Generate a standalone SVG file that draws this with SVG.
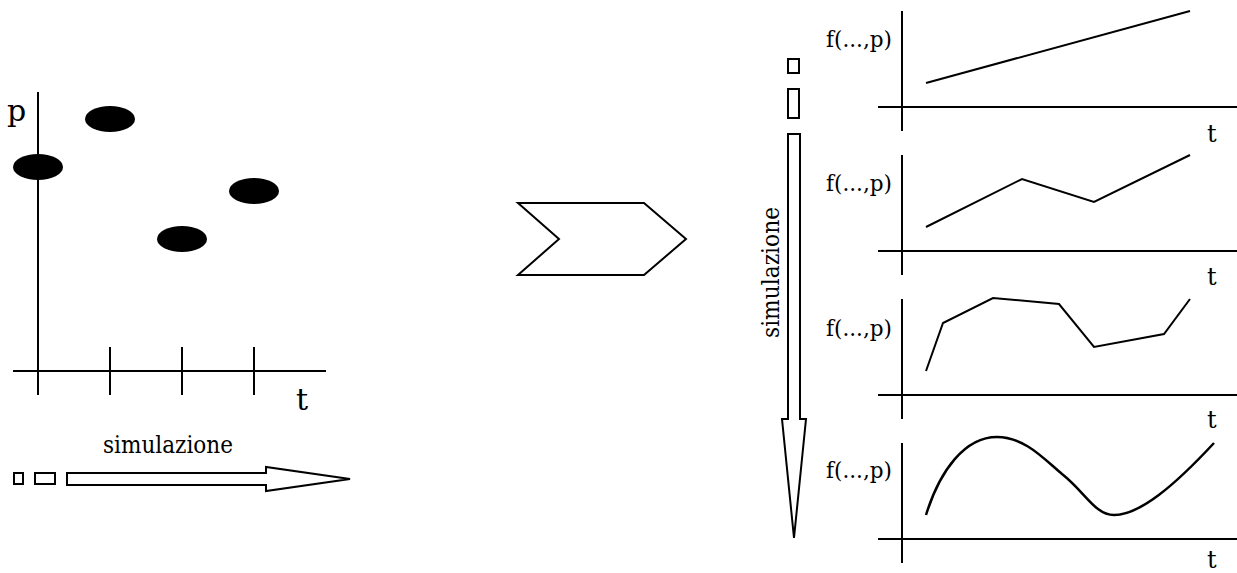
<svg xmlns="http://www.w3.org/2000/svg" width="1237" height="573" viewBox="0 0 1237 573">
<style>
.ln{fill:none;stroke:#000;stroke-width:2}
.sh{fill:#fff;stroke:#000;stroke-width:2;stroke-linejoin:miter}
.dot{fill:#000}
text{font-family:"DejaVu Serif","Liberation Serif",serif;fill:#000}
.big{font-size:30px}
.lbl{font-size:22px}
.tt{font-size:24px}
</style>
<rect width="1237" height="573" fill="#fff"/>
<g id="left-chart">
<line class="ln" x1="38" y1="92" x2="38" y2="395"/>
<line class="ln" x1="13" y1="371" x2="326" y2="371"/>
<line class="ln" x1="110" y1="347" x2="110" y2="395"/>
<line class="ln" x1="182" y1="347" x2="182" y2="395"/>
<line class="ln" x1="254" y1="347" x2="254" y2="395"/>
<ellipse class="dot" cx="38" cy="167" rx="25" ry="13"/>
<ellipse class="dot" cx="110" cy="119" rx="25" ry="13"/>
<ellipse class="dot" cx="182" cy="239" rx="25" ry="13"/>
<ellipse class="dot" cx="254" cy="191" rx="25" ry="13"/>
<text class="big" x="7" y="121">p</text>
<text class="big" x="296" y="410">t</text>
</g>
<g id="left-sim-arrow">
<rect class="sh" x="14" y="473" width="9" height="11"/>
<rect class="sh" x="35" y="473" width="20" height="11"/>
<polygon class="sh" points="67,473 266,473 266,467 350,479 266,491 266,485 67,485"/>
<text class="tt" x="103" y="453" textLength="130" lengthAdjust="spacingAndGlyphs">simulazione</text>
</g>
<g id="chevron">
<polygon class="sh" points="518,203 644,203 686,239 644,275 518,275 559,239"/>
</g>
<g id="right-sim-arrow">
<rect class="sh" x="788" y="59" width="11" height="14"/>
<rect class="sh" x="788" y="89" width="11" height="29"/>
<polygon class="sh" points="788,134 800,134 800,419 806,419 794,538 782,419 788,419"/>
<text class="tt" transform="translate(779,338) rotate(-90)" x="0" y="0" textLength="131" lengthAdjust="spacingAndGlyphs">simulazione</text>
</g>
<g id="chart1">
<line class="ln" x1="902" y1="11" x2="902" y2="131"/>
<line class="ln" x1="878" y1="107" x2="1237" y2="107"/>
<polyline class="ln" points="926,83 1190,11"/>
<text class="lbl" x="826" y="47" textLength="66" lengthAdjust="spacingAndGlyphs">f(...,p)</text>
<text class="tt" x="1207" y="142">t</text>
</g>
<g id="chart2">
<line class="ln" x1="902" y1="155" x2="902" y2="275"/>
<line class="ln" x1="878" y1="251" x2="1237" y2="251"/>
<polyline class="ln" points="926,227 1022,179 1094,202 1190,155"/>
<text class="lbl" x="826" y="191" textLength="66" lengthAdjust="spacingAndGlyphs">f(...,p)</text>
<text class="tt" x="1207" y="285">t</text>
</g>
<g id="chart3">
<line class="ln" x1="902" y1="299" x2="902" y2="419"/>
<line class="ln" x1="878" y1="395" x2="1237" y2="395"/>
<polyline class="ln" points="926,371 943,323 993,298 1059,304 1094,347 1164,334 1190,299"/>
<text class="lbl" x="826" y="336" textLength="66" lengthAdjust="spacingAndGlyphs">f(...,p)</text>
<text class="tt" x="1207" y="428">t</text>
</g>
<g id="chart4">
<line class="ln" x1="902" y1="443" x2="902" y2="563"/>
<line class="ln" x1="878" y1="539" x2="1237" y2="539"/>
<path class="ln" style="stroke-width:2.5" d="M926,515 C940,470 965,437 997,437 C1025,437 1045,460 1062,474 C1085,492 1095,515 1114,515 C1140,515 1175,485 1214,443"/>
<text class="lbl" x="826" y="478" textLength="66" lengthAdjust="spacingAndGlyphs">f(...,p)</text>
<text class="tt" x="1207" y="568">t</text>
</g>
</svg>
